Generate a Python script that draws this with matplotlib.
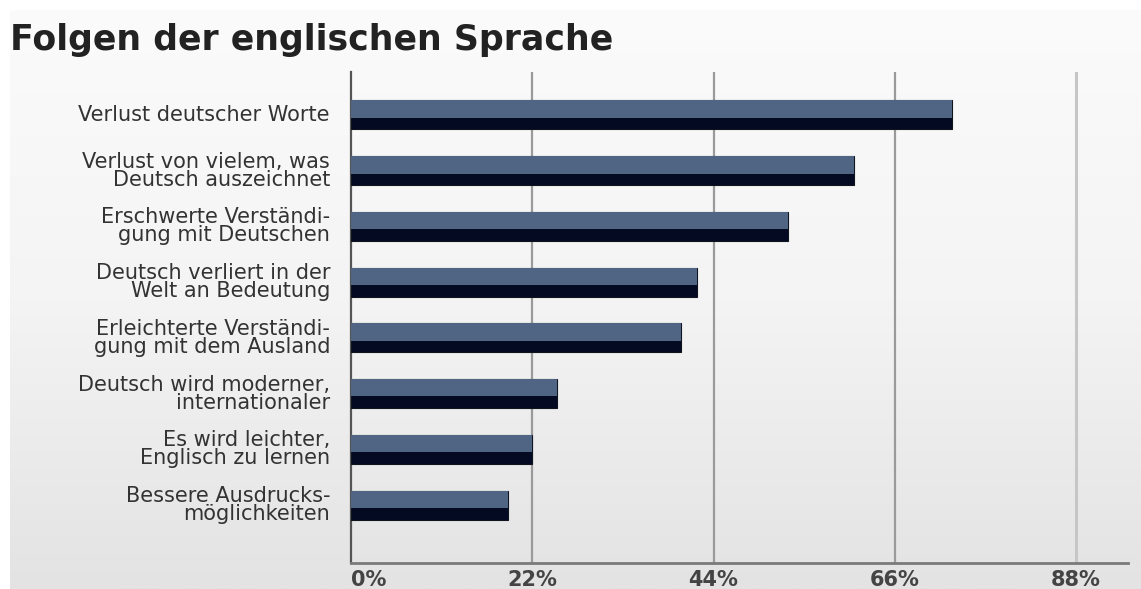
import numpy as np
import matplotlib

matplotlib.use("Agg")
import matplotlib.pyplot as plt
from matplotlib.colors import LinearSegmentedColormap

# data
labels = [
    "Verlust deutscher Worte",
    "Verlust von vielem, was\nDeutsch auszeichnet",
    "Erschwerte Verständi-\ngung mit Deutschen",
    "Deutsch verliert in der\nWelt an Bedeutung",
    "Erleichterte Verständi-\ngung mit dem Ausland",
    "Deutsch wird moderner,\ninternationaler",
    "Es wird leichter,\nEnglisch zu lernen",
    "Bessere Ausdrucks-\nmöglichkeiten",
]
values = [73, 61, 53, 42, 40, 25, 22, 19]
ticks = [0, 22, 44, 66, 88]
tick_labels = ["0%", "22%", "44%", "66%", "88%"]

W, H = 1141, 589
LIGHT = "#4f6583"
DARK = "#030a22"

fig = plt.figure(figsize=(W / 100, H / 100), dpi=100)
fig.patch.set_facecolor("white")

# light grey panel with a soft vertical gradient
bg = fig.add_axes([10 / W, 0, 1 - 10 / W, 1 - 10 / H])
cmap = LinearSegmentedColormap.from_list("bg", ["#fbfbfb", "#f4f4f4", "#e3e3e3"])
bg.imshow(np.linspace(0, 1, 256).reshape(-1, 1), aspect="auto", cmap=cmap,
          extent=[0, 1, 0, 1])
bg.axis("off")

ax = fig.add_axes([351 / W, 1 - 563 / H, (1128 - 351) / W, (563 - 72) / H])
ax.set_facecolor("none")

pos = np.arange(len(values))
h = 0.52
ax.barh(pos, values, height=h, color=DARK, edgecolor="#10141f",
        linewidth=0.8, zorder=3)
ax.barh(pos - h * 0.2, values, height=h * 0.6, color=LIGHT, linewidth=0, zorder=4)

ax.set_xlim(0, 94.3)
ax.set_ylim(8.04, -0.77)

ax.set_xticks(ticks)
ax.set_xticklabels(tick_labels, fontsize=15, fontweight="bold", color="#444444")
ax.get_xticklabels()[0].set_horizontalalignment("left")
ax.tick_params(axis="x", length=0, pad=5)
ax.set_yticks([])

ax.grid(axis="x", color="#9a9a9a", linewidth=1.6, zorder=0)
ax.get_xgridlines()[0].set_visible(False)
ax.get_xgridlines()[-1].set_color("#c6c6c6")
ax.get_xgridlines()[-1].set_linewidth(2.2)

for s in ("top", "right"):
    ax.spines[s].set_visible(False)
ax.spines["left"].set_color("#555555")
ax.spines["left"].set_linewidth(1.6)
ax.spines["bottom"].set_color("#7a7a7a")
ax.spines["bottom"].set_linewidth(2)

for p, lab in zip(pos, labels):
    ax.annotate(lab, (0, p), xytext=(-21, 0), textcoords="offset pixels",
                ha="right", va="center", fontsize=15, color="#333333",
                linespacing=0.88, multialignment="right")

fig.text(10 / W, 1 - 50 / H, "Folgen der englischen Sprache", fontsize=25,
         fontweight="bold", color="#222222", ha="left", va="baseline")

fig.savefig("out.png", dpi=100)
